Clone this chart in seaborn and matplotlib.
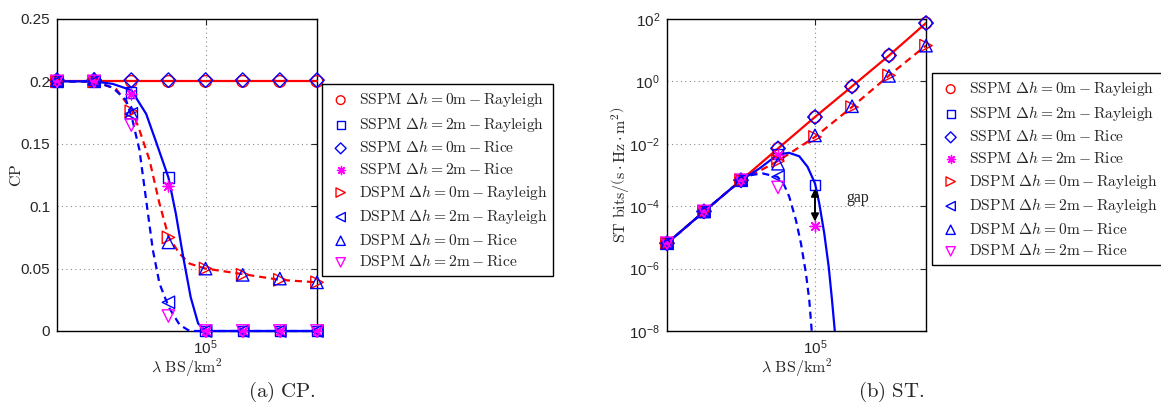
import numpy as np
import matplotlib
matplotlib.use("Agg")
import matplotlib.pyplot as plt
from matplotlib.ticker import FuncFormatter, NullLocator, FixedLocator
import seaborn as sns

# simulation points (x positions, BS/km^2)
lam = [1.585e4, 2.512e4, 3.981e4, 6.31e4, 1e5, 1.585e5, 2.512e5, 3.981e5]

legend_labels = [
    r"$\mathrm{SSPM}\ \Delta h = 0\mathrm{m} - \mathrm{Rayleigh}$",
    r"$\mathrm{SSPM}\ \Delta h = 2\mathrm{m} - \mathrm{Rayleigh}$",
    r"$\mathrm{SSPM}\ \Delta h = 0\mathrm{m} - \mathrm{Rice}$",
    r"$\mathrm{SSPM}\ \Delta h = 2\mathrm{m} - \mathrm{Rice}$",
    r"$\mathrm{DSPM}\ \Delta h = 0\mathrm{m} - \mathrm{Rayleigh}$",
    r"$\mathrm{DSPM}\ \Delta h = 2\mathrm{m} - \mathrm{Rayleigh}$",
    r"$\mathrm{DSPM}\ \Delta h = 0\mathrm{m} - \mathrm{Rice}$",
    r"$\mathrm{DSPM}\ \Delta h = 2\mathrm{m} - \mathrm{Rice}$",
]

# ---- CP, simulated markers ----
cp_sspm0_ray = [0.2, 0.2, 0.2, 0.2, 0.2, 0.2, 0.2, 0.2]
cp_sspm2_ray = [0.2, 0.2, 0.191, 0.123, 0.0, 0.0, 0.0, 0.0]
cp_sspm0_rice = [0.201, 0.201, 0.201, 0.201, 0.201, 0.201, 0.201, 0.201]
cp_sspm2_rice = [0.2, 0.2, 0.19, 0.116, 0.0, 0.0, 0.0, 0.0]
cp_dspm0_ray = [0.2, 0.2, 0.176, 0.075, 0.05, 0.045, 0.041, 0.039]
cp_dspm2_ray = [0.2, 0.2, 0.174, 0.023, 0.0, 0.0, 0.0, 0.0]
cp_dspm0_rice = [0.201, 0.202, 0.175, 0.071, 0.05, 0.045, 0.042, 0.039]
cp_dspm2_rice = [0.2, 0.2, 0.165, 0.012, 0.0, 0.0, 0.0, 0.0]

# ---- CP, analytical curves (log10 of lambda, value) ----
cp_sspm0_x = [4.2, 4.4, 4.6, 4.8, 5.0, 5.2, 5.4, 5.6]
cp_sspm0_y = [0.2, 0.2, 0.2, 0.2, 0.2, 0.2, 0.2, 0.2]
cp_sspm2_x = [4.2, 4.4, 4.5, 4.6, 4.68, 4.73, 4.8, 4.84, 4.88, 4.92, 4.96, 5.0, 5.6]
cp_sspm2_y = [0.2, 0.2, 0.198, 0.193, 0.174, 0.153, 0.123, 0.094, 0.059, 0.027, 0.006, 0.0, 0.0]
cp_dspm0_x = [4.2, 4.4, 4.518, 4.603, 4.644, 4.698, 4.752, 4.802, 4.86, 4.914, 5.0, 5.2, 5.4, 5.6]
cp_dspm0_y = [0.2, 0.2, 0.194, 0.177, 0.161, 0.137, 0.102, 0.075, 0.062, 0.054, 0.05, 0.0456, 0.041, 0.039]
cp_dspm2_x = [4.2, 4.4, 4.5, 4.572, 4.603, 4.644, 4.68, 4.716, 4.752, 4.802, 4.86, 4.914, 5.6]
cp_dspm2_y = [0.2, 0.2, 0.195, 0.185, 0.171, 0.145, 0.105, 0.065, 0.038, 0.019, 0.005, 0.0, 0.0]

# ---- ST, simulated markers (bits/(s Hz m^2)); nan = not shown ----
nan = np.nan
st_sspm0_ray = [6.5e-6, 6.8e-5, 6.8e-4, 7.1e-3, 7.2e-2, 0.69, 6.8, 74]
st_sspm2_ray = [6.5e-6, 6.8e-5, 6.8e-4, 4.6e-3, 4.9e-4, nan, nan, nan]
st_sspm0_rice = [6.5e-6, 6.8e-5, 6.8e-4, 7.1e-3, 7.2e-2, 0.69, 6.8, 74]
st_sspm2_rice = [6.5e-6, 6.8e-5, 6.8e-4, 4.3e-3, 2.3e-5, nan, nan, nan]
st_dspm0_ray = [6.5e-6, 6.8e-5, 6.8e-4, 2.8e-3, 1.66e-2, 0.15, 1.55, 14]
st_dspm2_ray = [6.5e-6, 6.8e-5, 6.8e-4, 8.7e-4, nan, nan, nan, nan]
st_dspm0_rice = [6.5e-6, 6.8e-5, 6.8e-4, 2.3e-3, 1.86e-2, 0.16, 1.5, 14]
st_dspm2_rice = [6.5e-6, 6.8e-5, 6.8e-4, 4.0e-4, nan, nan, nan, nan]

# ---- ST, analytical curves (log10 of lambda, log10 of value) ----
st_sspm0_x = [4.2, 4.4, 4.6, 4.8, 5.0, 5.2, 5.4, 5.6]
st_sspm0_y = [-5.19, -4.17, -3.17, -2.15, -1.14, -0.16, 0.83, 1.87]
st_sspm2_x = [4.2, 4.4, 4.6, 4.7, 4.8, 4.86, 4.915, 4.96, 5.0, 5.023, 5.05, 5.074, 5.092, 5.11]
st_sspm2_y = [-5.19, -4.17, -3.17, -2.79, -2.34, -2.29, -2.40, -2.74, -3.27, -3.91, -4.87, -5.94, -7.01, -8.2]
st_dspm0_x = [4.2, 4.4, 4.6, 4.7, 4.8, 5.0, 5.2, 5.4, 5.6]
st_dspm0_y = [-5.19, -4.17, -3.17, -2.87, -2.55, -1.78, -0.82, 0.19, 1.15]
st_dspm2_x = [4.2, 4.4, 4.6, 4.645, 4.717, 4.798, 4.834, 4.861, 4.897, 4.924, 4.951, 4.969, 4.985]
st_dspm2_y = [-5.19, -4.17, -3.17, -3.01, -2.95, -3.06, -3.33, -3.70, -4.45, -5.19, -6.15, -7.01, -8.2]

RED, BLUE, MAG = (1, 0, 0), (0, 0, 1), (1, 0, 1)
ASTER = (8, 2, 0)
marker_specs = [
    ("o", RED, 70), ("s", BLUE, 55), ("D", BLUE, 55), (ASTER, MAG, 60),
    (">", RED, 80), ("<", BLUE, 80), ("^", BLUE, 80), ("v", MAG, 80),
]
DASH = (0, (3.2, 2.2))

sns.set_style("white")
plt.rcParams["font.family"] = ["Liberation Sans", "DejaVu Sans"]
plt.rcParams["axes.linewidth"] = 1.0

fig = plt.figure(figsize=(11.61, 4.13), dpi=100)
ax1 = fig.add_axes([57 / 1161, 1 - 331 / 413, 260 / 1161, 312 / 413])
ax2 = fig.add_axes([667 / 1161, 1 - 331 / 413, 259 / 1161, 312 / 413])


def draw_curve(ax, xs, ys, color, ls, logy=False):
    xv = 10 ** np.asarray(xs)
    yv = 10 ** np.asarray(ys) if logy else np.asarray(ys)
    sns.lineplot(x=xv, y=yv, color=color, linestyle=ls, linewidth=1.6,
                 estimator=None, sort=False, ax=ax, zorder=2)


def draw_markers(ax, series):
    for (mk, col, s), y, lab in zip(marker_specs, series, legend_labels):
        fc = col if mk == ASTER else "none"
        sns.scatterplot(x=lam, y=y, marker=mk, s=s, facecolor=fc, edgecolor=col,
                        linewidth=1.0, label=lab, ax=ax, zorder=3, clip_on=False)


def style_axes(ax):
    ax.set_xscale("log")
    ax.set_xlim(10 ** 4.2, 10 ** 5.6)
    ax.xaxis.set_minor_locator(NullLocator())
    ax.tick_params(which="both", direction="in", top=True, right=True,
                   length=4, width=0.8, labelsize=11, pad=5)
    ax.grid(True, which="major", linestyle=(0, (1, 3)), color="0.55", linewidth=0.8)
    for sp in ax.spines.values():
        sp.set_color("black")
        sp.set_zorder(1)


def add_legend(ax, x0, y0):
    h, l = ax.get_legend_handles_labels()
    leg = ax.legend(h, l, loc="upper left", bbox_to_anchor=(x0 / 1161, 1 - y0 / 413),
                    bbox_transform=fig.transFigure, borderaxespad=0, frameon=True,
                    fancybox=False, edgecolor="black", framealpha=1, fontsize=11.2,
                    handletextpad=0.35, labelspacing=0.36, borderpad=0.4,
                    handlelength=1.6, markerscale=0.75)
    leg.get_frame().set_linewidth(1.0)
    for t in leg.get_texts():
        t.set_math_fontfamily("cm")
    return leg


# ---------------- (a) CP ----------------
style_axes(ax1)
draw_curve(ax1, cp_sspm0_x, cp_sspm0_y, RED, "-")
draw_curve(ax1, cp_dspm0_x, cp_dspm0_y, RED, DASH)
draw_curve(ax1, cp_dspm2_x, cp_dspm2_y, BLUE, DASH)
draw_curve(ax1, cp_sspm2_x, cp_sspm2_y, BLUE, "-")
for ln in ax1.lines:
    ln.set_clip_on(False)
draw_markers(ax1, [cp_sspm0_ray, cp_sspm2_ray, cp_sspm0_rice, cp_sspm2_rice,
                   cp_dspm0_ray, cp_dspm2_ray, cp_dspm0_rice, cp_dspm2_rice])
ax1.set_ylim(0, 0.25)
ax1.yaxis.set_major_locator(FixedLocator([0, 0.05, 0.1, 0.15, 0.2, 0.25]))
ax1.yaxis.set_major_formatter(FuncFormatter(lambda v, p: "%g" % round(v, 3)))
ax1.set_ylabel(r"$\mathrm{CP}$", fontsize=11.5, math_fontfamily="cm")
ax1.yaxis.set_label_coords(-0.128, 0.5)
ax1.set_xlabel(r"$\lambda\ \mathrm{BS/km^2}$", fontsize=11.5, math_fontfamily="cm")
ax1.xaxis.set_label_coords(0.5, -0.08)
add_legend(ax1, 322, 84)

# ---------------- (b) ST ----------------
ax2.set_yscale("log")
style_axes(ax2)
draw_curve(ax2, st_sspm0_x, st_sspm0_y, RED, "-", logy=True)
draw_curve(ax2, st_dspm0_x, st_dspm0_y, RED, DASH, logy=True)
draw_curve(ax2, st_dspm2_x, st_dspm2_y, BLUE, DASH, logy=True)
draw_curve(ax2, st_sspm2_x, st_sspm2_y, BLUE, "-", logy=True)
draw_markers(ax2, [st_sspm0_ray, st_sspm2_ray, st_sspm0_rice, st_sspm2_rice,
                   st_dspm0_ray, st_dspm2_ray, st_dspm0_rice, st_dspm2_rice])
ax2.set_ylim(1e-8, 1e2)
ax2.yaxis.set_major_locator(FixedLocator([1e-8, 1e-6, 1e-4, 1e-2, 1e0, 1e2]))
ax2.yaxis.set_minor_locator(NullLocator())
ax2.set_ylabel(r"$\mathrm{ST\ bits}/\left(\mathrm{s}\cdot\mathrm{Hz}\cdot\mathrm{m}^2\right)$",
               fontsize=11.5, math_fontfamily="cm")
ax2.yaxis.set_label_coords(-0.135, 0.5)
ax2.set_xlabel(r"$\lambda\ \mathrm{BS/km^2}$", fontsize=11.5, math_fontfamily="cm")
ax2.xaxis.set_label_coords(0.5, -0.08)
add_legend(ax2, 932, 73)

# gap arrow between SSPM 2m Rayleigh and Rice at 1e5
ax2.annotate("", xy=(lam[4], st_sspm2_ray[4] * 0.75), xytext=(lam[4], st_sspm2_rice[4] * 1.4),
             arrowprops=dict(arrowstyle="<|-|>", color="black", lw=1.4,
                             mutation_scale=11, shrinkA=0, shrinkB=0), zorder=4)
ax2.text(10 ** 5.17, 10 ** -3.75, "gap", fontsize=11.5, family="Liberation Serif",
         ha="left", va="center")

# captions
fig.text(282 / 1161, 1 - 392 / 413, r"$\mathrm{(a)\ CP.}$", fontsize=15,
         math_fontfamily="cm", ha="center", va="center")
fig.text(891 / 1161, 1 - 392 / 413, r"$\mathrm{(b)\ ST.}$", fontsize=15,
         math_fontfamily="cm", ha="center", va="center")

fig.savefig("out.png", dpi=100)
